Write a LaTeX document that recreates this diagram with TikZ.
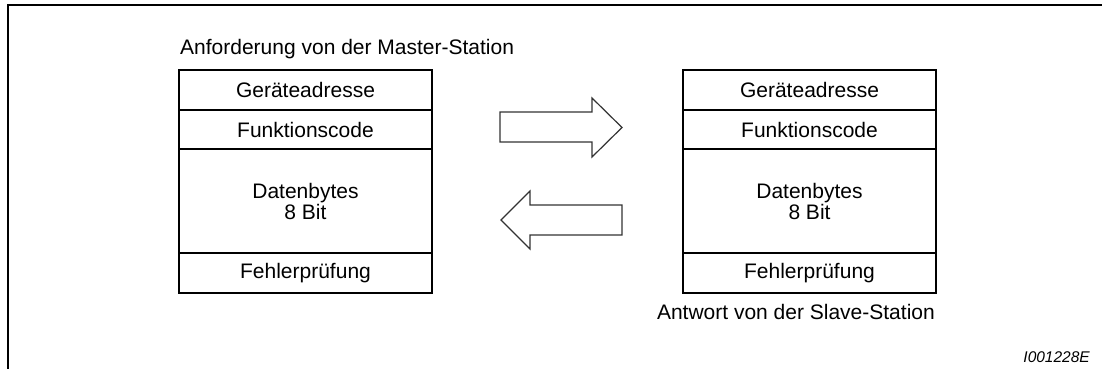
\documentclass[tikz,border=0pt]{standalone}
\usepackage{fontspec}
\setmainfont{Liberation Sans}
\usepackage{tikz}
\usetikzlibrary{positioning,calc}

\tikzset{
    field/.style={draw, line width=2pt, minimum width=253pt, inner sep=2pt, outer sep=0pt,
        align=center, font=\fontsize{21}{21}\selectfont},
    caption/.style={inner sep=0pt, font=\fontsize{21}{21}\selectfont},
    bigarrow/.style={draw=black!80, line width=1.2pt, line join=miter, fill=white}
}

\begin{document}
\begin{tikzpicture}[x=1pt, y=-1pt]
    \useasboundingbox (0,0) rectangle (1102,369);
    % Frame
    \draw[line width=2.5pt] (8,369) -- (8,5) -- (1102,5);

    % Request from the master station
    \node[field, minimum height=40pt] (mAddr) at (305.5,90) {Geräteadresse};
    \node[field, minimum height=39pt, below=0pt of mAddr] (mFunc) {Funktionscode};
    \node[field, minimum height=104pt, below=0pt of mFunc] (mData) {Datenbytes\\8 Bit};
    \node[field, minimum height=40pt, below=0pt of mData] (mCheck) {Fehlerprüfung};
    \node[caption, anchor=base west] (mLabel) at (180,55) {Anforderung von der Master-Station};

    % Response from the slave station
    \node[field, minimum height=40pt] (sAddr) at (809.5,90) {Geräteadresse};
    \node[field, minimum height=39pt, below=0pt of sAddr] (sFunc) {Funktionscode};
    \node[field, minimum height=104pt, below=0pt of sFunc] (sData) {Datenbytes\\8 Bit};
    \node[field, minimum height=40pt, below=0pt of sData] (sCheck) {Fehlerprüfung};
    \node[caption, anchor=base east] (sLabel) at (935,319) {Antwort von der Slave-Station};

    % Arrows
    \draw[bigarrow] (500,112) -- (592,112) -- (592,98) -- (622,127.5) -- (592,157) -- (592,142) -- (500,142) -- cycle;
    \draw[bigarrow] (622,205) -- (530,205) -- (530,191) -- (501,220) -- (530,249) -- (530,235) -- (622,235) -- cycle;

    % Figure number
    \node[inner sep=0pt, anchor=base east, font=\fontsize{15.5}{15.5}\selectfont\itshape] (figNo) at (1090,362) {I001228E};
\end{tikzpicture}
\end{document}
